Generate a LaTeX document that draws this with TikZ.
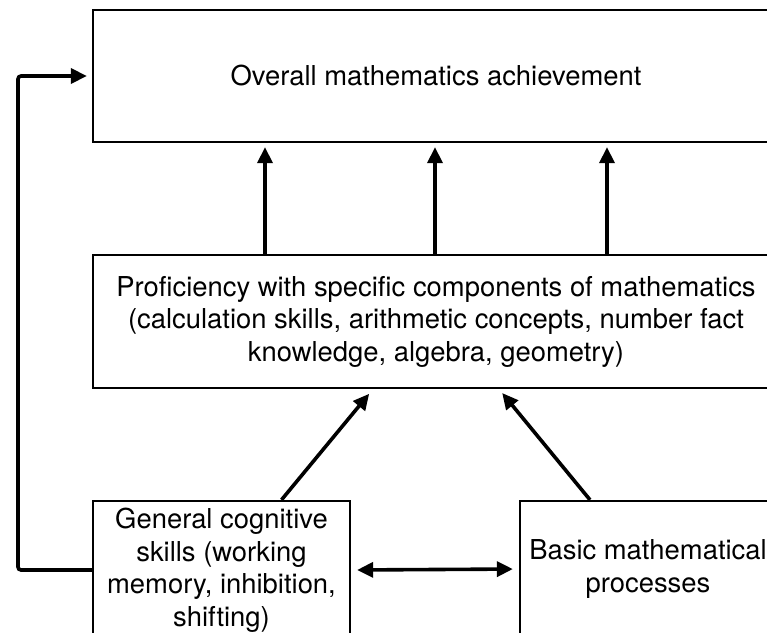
\documentclass[tikz,border=0pt]{standalone}
\usepackage{fontspec}
\setmainfont{TeX Gyre Heros}
\usetikzlibrary{arrows.meta,positioning}

\begin{document}
\begin{tikzpicture}[
    x=1pt, y=-1pt,
    box/.style={rectangle, draw=black, line width=2.3pt, align=center, inner sep=0pt,
      font=\fontsize{27.4}{32.5}\selectfont},
    arr/.style={draw=black, line width=3.6pt, -{Triangle[length=16pt,width=15pt]}},
    darr/.style={draw=black, line width=3.6pt, {Triangle[length=16pt,width=15pt]}-{Triangle[length=16pt,width=15pt]}}
    ]
    \useasboundingbox (0,0) rectangle (767,632);
    \begin{scope}
    \clip (0,0) rectangle (767,632);
    \node[box, minimum width=686pt, minimum height=132pt] (achieve) at (436,76) {Overall mathematics achievement};
    \node[box, minimum width=686pt, minimum height=133pt] (profic) at (436,321.5)
      {Proficiency with specific components of mathematics\\ (calculation skills, arithmetic concepts, number fact\\ knowledge, algebra, geometry)};
    \node[box, minimum width=257pt, minimum height=138pt] (cognitive) at (221.5,570)
      {General cognitive\\ skills (working\\ memory, inhibition,\\ shifting)};
    \node[box, minimum width=256pt, minimum height=136pt] (basic) at (648,569)
      {Basic mathematical\\ processes};
    \coordinate (loop) at (18,0);

    % upward links
    \foreach \lx in {265,435,607}
      \draw[arr, shorten >=4pt] (profic.north -| \lx,0) -- (achieve.south -| \lx,0);
    \draw[arr, shorten >=6pt] ([xshift=60pt]cognitive.north) -- ([xshift=-63pt]profic.south);
    \draw[arr, shorten >=5pt] ([xshift=-58pt]basic.north) -- ([xshift=63pt]profic.south);
    \draw[darr, shorten <=6pt, shorten >=6pt] (cognitive.east) -- (basic.west);

    % feedback loop
    \draw[arr, rounded corners=3pt, shorten >=5pt] (cognitive.west) -| (achieve.west -| loop) -- (achieve.west);
    \end{scope}
  \end{tikzpicture}
\end{document}
